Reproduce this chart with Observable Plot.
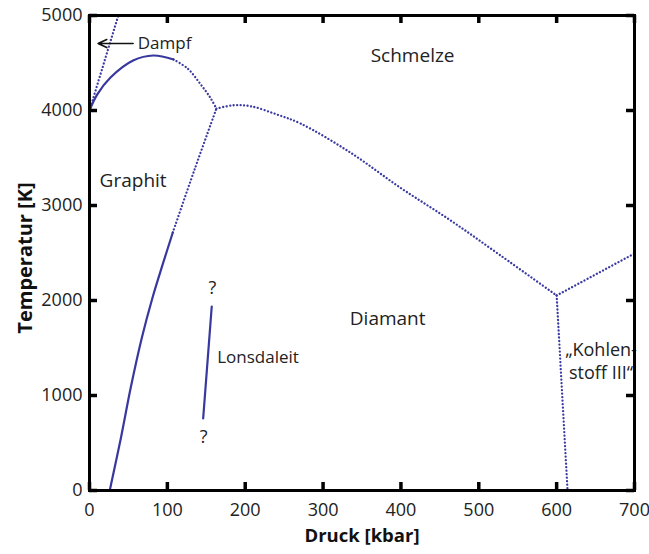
<!DOCTYPE html>
<html>
<head>
<meta charset="utf-8">
<script src="https://cdn.jsdelivr.net/npm/d3@7"></script>
<script src="https://cdn.jsdelivr.net/npm/@observablehq/plot@0.6"></script>
<style>
  html, body { margin: 0; padding: 0; background: #fff; }
  #chart { width: 649px; height: 554px; }
</style>
</head>
<body>
<div id="chart"></div>
<script>
// Axis ticks
const xTicks = [0, 100, 200, 300, 400, 500, 600, 700];
const yTicks = [0, 1000, 2000, 3000, 4000, 5000];

// Phase boundaries (pressure in kbar, temperature in K)
const dampfP = [0, 37];
const dampfT = [4000, 5000];

const graphitMeltSolidP = [0, 10, 27, 56, 82, 108];
const graphitMeltSolidT = [4000, 4170, 4347, 4526, 4579, 4537];
const graphitMeltDotP = [108, 126, 142, 155, 163];
const graphitMeltDotT = [4537, 4442, 4284, 4137, 4020];

const grDiaSolidP = [26, 40, 53, 67, 81, 94, 107];
const grDiaSolidT = [0, 540, 1084, 1600, 2032, 2380, 2716];
const grDiaDotP = [107, 135, 163];
const grDiaDotT = [2716, 3380, 4020];

const diaMeltP = [163, 185, 207, 240, 271, 335, 399, 464, 528, 600];
const diaMeltT = [4020, 4055, 4045, 3960, 3863, 3558, 3189, 2842, 2474, 2053];

const c3MeltP = [600, 700];
const c3MeltT = [2053, 2495];

const diaC3P = [600, 614];
const diaC3T = [2053, 0];

const lonsP = [157, 146];
const lonsT = [1937, 758];

// Labels
const centerLabels = ["Schmelze", "Diamant"];
const centerLabelP = [415, 383];
const centerLabelT = [4579, 1810];

const graphitLabel = ["Graphit"];
const graphitLabelP = [13];
const graphitLabelT = [3263];

const qP = [158, 146.5];
const qT = [2126, 558];

const lonsLabel = ["Lonsdaleit"];
const lonsLabelP = [164];
const lonsLabelT = [1400];

const c3Label = ["\u201EKohlen-", "stoff III\u201C"];
const c3LabelP = [657, 657];
const c3LabelT = [1474, 1232];

const dampfLabel = ["Dampf"];
const dampfLabelP = [62];
const dampfLabelT = [4705];
const dampfArrowP = [56, 11];
const dampfArrowT = [4705, 4705];

const zip = (P, T) => P.map((p, i) => ({p, t: T[i]}));
const zipS = (S, P, T) => S.map((s, i) => ({s, p: P[i], t: T[i]}));

const lineColor = "#38389e";
const dotColor = "#3a3aa2";
const textColor = "#222";
const dots = {stroke: dotColor, strokeWidth: 2.3, strokeDasharray: "0.01,3.5", strokeLinecap: "round", curve: "catmull-rom"};
const solid = {stroke: lineColor, strokeWidth: 2.2, curve: "catmull-rom"};

// inner frame size: 649-89-15 = 545 wide, 554-15-64 = 475 tall; ticks inward
const tickLen = 8;
const innerW = 545, innerH = 475;
const tickStyle = {stroke: "#000", strokeWidth: 3.5, strokeLinecap: "butt"};

const chart = Plot.plot({
  width: 649,
  height: 554,
  marginLeft: 89,
  marginRight: 15,
  marginTop: 15,
  marginBottom: 64,
  style: {fontFamily: "'Open Sans', sans-serif", background: "#fff", color: "#111"},
  x: {domain: [0, 700]},
  y: {domain: [0, 5000]},
  marks: [
    // curves
    Plot.line(zip(dampfP, dampfT), {x: "p", y: "t", ...dots, curve: "linear"}),
    Plot.line(zip(graphitMeltSolidP, graphitMeltSolidT), {x: "p", y: "t", ...solid}),
    Plot.line(zip(graphitMeltDotP, graphitMeltDotT), {x: "p", y: "t", ...dots}),
    Plot.line(zip(grDiaSolidP, grDiaSolidT), {x: "p", y: "t", ...solid}),
    Plot.line(zip(grDiaDotP, grDiaDotT), {x: "p", y: "t", ...dots}),
    Plot.line(zip(diaMeltP, diaMeltT), {x: "p", y: "t", ...dots}),
    Plot.line(zip(c3MeltP, c3MeltT), {x: "p", y: "t", ...dots, curve: "linear"}),
    Plot.line(zip(diaC3P, diaC3T), {x: "p", y: "t", ...dots, curve: "linear"}),
    Plot.line(zip(lonsP, lonsT), {x: "p", y: "t", ...solid, curve: "linear"}),

    // arrow to vapour line
    Plot.arrow([{x1: dampfArrowP[0], x2: dampfArrowP[1], y1: dampfArrowT[0], y2: dampfArrowT[1]}],
      {x1: "x1", y1: "y1", x2: "x2", y2: "y2", stroke: "#111", strokeWidth: 1.6, headLength: 9, headAngle: 50}),

    // labels
    Plot.text(zipS(centerLabels, centerLabelP, centerLabelT), {x: "p", y: "t", text: "s", textAnchor: "middle", fontSize: 19, fill: textColor}),
    Plot.text(zipS(graphitLabel, graphitLabelP, graphitLabelT), {x: "p", y: "t", text: "s", textAnchor: "start", fontSize: 19, fill: textColor}),
    Plot.text(zipS(dampfLabel, dampfLabelP, dampfLabelT), {x: "p", y: "t", text: "s", textAnchor: "start", fontSize: 17, fill: textColor}),
    Plot.text(zipS(lonsLabel, lonsLabelP, lonsLabelT), {x: "p", y: "t", text: "s", textAnchor: "start", fontSize: 17, fill: textColor}),
    Plot.text(zip(qP, qT), {x: "p", y: "t", text: () => "?", fontSize: 18, fill: textColor}),
    Plot.text(zipS(c3Label, c3LabelP, c3LabelT), {x: "p", y: "t", text: "s", fontSize: 18, fill: textColor}),

    // inward ticks on all four sides
    Plot.ruleX(xTicks, {x: d => d, insetTop: innerH - tickLen, ...tickStyle}),
    Plot.ruleX(xTicks, {x: d => d, insetBottom: innerH - tickLen, ...tickStyle}),
    Plot.ruleY(yTicks, {y: d => d, insetRight: innerW - tickLen, ...tickStyle}),
    Plot.ruleY(yTicks, {y: d => d, insetLeft: innerW - tickLen, ...tickStyle}),

    // frame
    Plot.frame({stroke: "#000", strokeWidth: 3}),

    // tick labels
    Plot.axisX(xTicks, {anchor: "bottom", tickSize: 0, tickPadding: 13, fontSize: 18, tickFormat: d3.format("d"), label: null, fill: "#222"}),
    Plot.axisY(yTicks, {anchor: "left", tickSize: 0, tickPadding: 7, fontSize: 18, tickFormat: d3.format("d"), label: null, fill: "#222"}),

    // axis titles
    Plot.text(["Druck [kbar]"], {frameAnchor: "bottom", textAnchor: "middle", dy: 46, lineAnchor: "middle", fontSize: 18.5, fontWeight: "bold", fill: "#111"}),
    Plot.text(["Temperatur [K]"], {frameAnchor: "left", textAnchor: "middle", dx: -64, dy: 5, rotate: -90, lineAnchor: "middle", fontSize: 20, fontWeight: "bold", fill: "#111"})
  ]
});

document.getElementById("chart").appendChild(chart);
</script>
</body>
</html>
